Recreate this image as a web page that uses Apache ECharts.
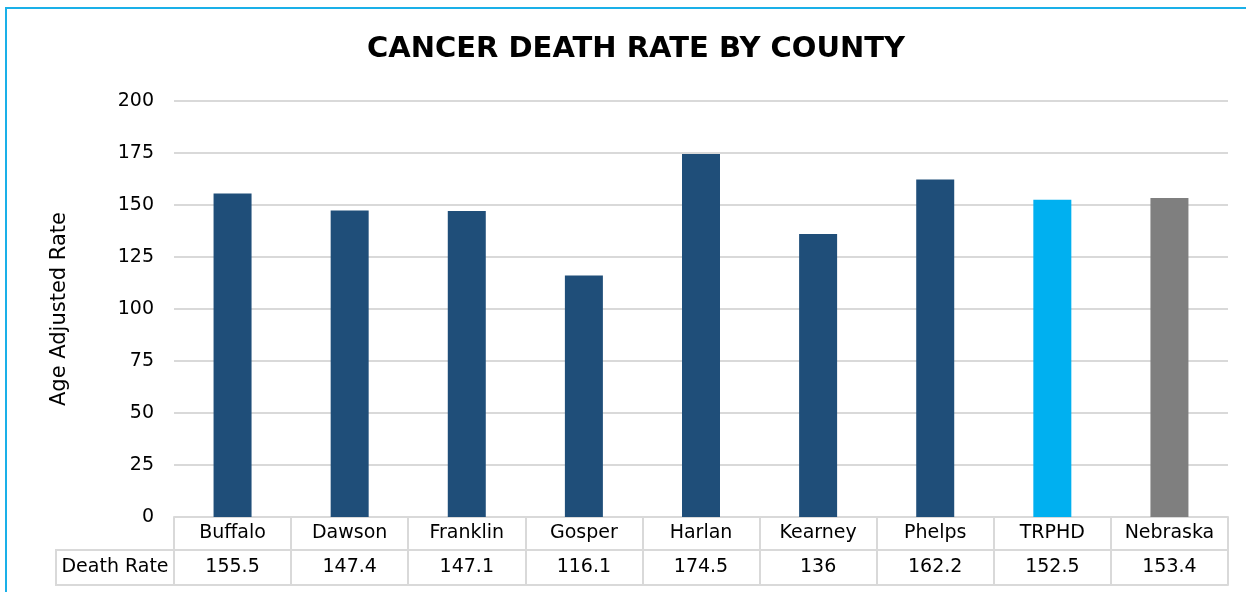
<!DOCTYPE html>
<html>
<head>
<meta charset="utf-8">
<script src="https://cdn.jsdelivr.net/npm/echarts@6/dist/echarts.min.js"></script>
<style>
html,body{margin:0;padding:0;background:#fff;}
#chart{width:1246px;height:592px;}
</style>
</head>
<body>
<div id="chart"></div>
<script>
var categories = ['Buffalo','Dawson','Franklin','Gosper','Harlan','Kearney','Phelps','TRPHD','Nebraska'];
var deathRate = [155.5, 147.4, 147.1, 116.1, 174.5, 136, 162.2, 152.5, 153.4];
var barColors = ['#1F4E79','#1F4E79','#1F4E79','#1F4E79','#1F4E79','#1F4E79','#1F4E79','#00B0F0','#7F7F7F'];
var seriesName = 'Death Rate';
var titleText = 'CANCER DEATH RATE BY COUNTY';
var yAxisTitle = 'Age Adjusted Rate';
var yMin = 0, yMax = 200, yStep = 25;

var FONT = 'DejaVu Sans';
var FS = 19;
var GRID_L = 174, GRID_R = 18, GRID_T = 101, GRID_B = 75;
var ROW1 = 33, ROW2 = 68, LEFTCOL = 56;
var LINE = '#D9D9D9';

var chart = echarts.init(document.getElementById('chart'));
chart.setOption({
  animation: false,
  backgroundColor: '#fff',
  textStyle: {fontFamily: FONT},
  title: {
    text: titleText, left: 362, top: 30,
    textStyle: {fontFamily: FONT, fontSize: 29, fontWeight: 'bold', color: '#000'}
  },
  grid: {left: GRID_L, right: GRID_R, top: GRID_T, bottom: GRID_B},
  xAxis: [
    {
      type: 'category', data: categories, position: 'bottom',
      axisLine: {show: true, lineStyle: {color: LINE, width: 2}},
      axisTick: {show: true, length: ROW2, lineStyle: {color: LINE, width: 2}},
      axisLabel: {color: '#000', fontSize: FS, margin: 7, fontFamily: FONT}
    },
    {
      type: 'category', data: deathRate.map(String), position: 'bottom', offset: ROW1,
      axisLine: {show: true, lineStyle: {color: LINE, width: 2}},
      axisTick: {show: false},
      axisLabel: {color: '#000', fontSize: FS, margin: 8, fontFamily: FONT}
    },
    {
      type: 'category', data: categories, position: 'bottom', offset: ROW2,
      axisLine: {show: true, lineStyle: {color: LINE, width: 2}},
      axisTick: {show: false},
      axisLabel: {show: false}
    }
  ],
  yAxis: {
    type: 'value', min: yMin, max: yMax, interval: yStep,
    name: yAxisTitle, nameLocation: 'middle', nameRotate: 90, nameGap: 104,
    nameTextStyle: {color: '#000', fontSize: 21, fontFamily: FONT},
    axisLine: {show: false}, axisTick: {show: false},
    axisLabel: {color: '#000', fontSize: FS, margin: 20, fontFamily: FONT},
    splitLine: {lineStyle: {color: LINE, width: 2}}
  },
  series: [{
    name: seriesName, type: 'bar', xAxisIndex: 0, barWidth: 38,
    data: deathRate.map(function (v, i) { return {value: v, itemStyle: {color: barColors[i]}}; })
  }],
  graphic: [
    {
      type: 'rect', silent: true,
      shape: {x: 6, y: 8, width: 1300, height: 700},
      style: {fill: 'none', stroke: '#1AB0E8', lineWidth: 2}
    },
    {
      type: 'rect', silent: true,
      shape: {x: LEFTCOL, y: 592 - GRID_B + ROW1, width: GRID_L - LEFTCOL, height: ROW2 - ROW1},
      style: {fill: 'none', stroke: LINE, lineWidth: 2}
    },
    {
      type: 'text', silent: true,
      style: {
        text: seriesName, x: (LEFTCOL + GRID_L) / 2, y: 592 - GRID_B + (ROW1 + ROW2) / 2,
        align: 'center', verticalAlign: 'middle', fill: '#000', font: FS + 'px ' + FONT
      }
    }
  ]
});
</script>
</body>
</html>
